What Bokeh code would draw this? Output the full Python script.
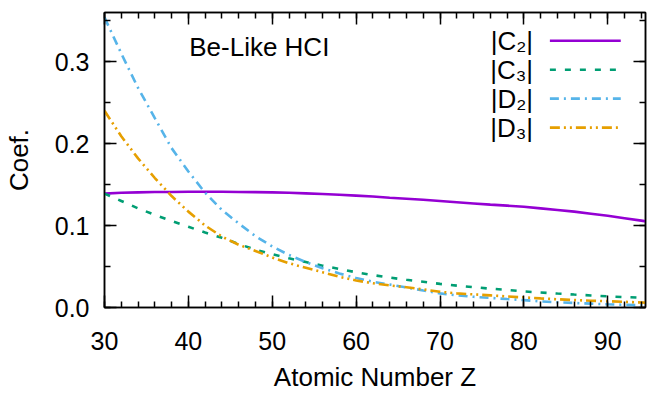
from bokeh.plotting import figure
from bokeh.models import Range1d, LinearAxis, SingleIntervalTicker, PrintfTickFormatter, CustomJSTickFormatter
from bokeh.core.properties import value
from bokeh.embed import file_html
from bokeh.resources import INLINE

# ---- data ----
Z = [30, 32, 34, 36, 38, 40, 42, 44, 46, 48, 50, 52, 54, 56, 58, 60, 62, 64,
     66, 68, 70, 72, 74, 76, 78, 80, 82, 84, 86, 88, 90, 92, 94, 95]
C2 = [0.139, 0.140, 0.1405, 0.141, 0.141, 0.1412, 0.1412, 0.1412, 0.141, 0.1408,
      0.1405, 0.140, 0.1393, 0.1385, 0.1375, 0.1365, 0.1355, 0.134, 0.1328, 0.1315,
      0.130, 0.1285, 0.127, 0.1255, 0.1243, 0.123, 0.121, 0.119, 0.117, 0.1145,
      0.112, 0.109, 0.106, 0.1045]
C3 = [0.139, 0.130, 0.121, 0.113, 0.1055, 0.0985, 0.0915, 0.085, 0.0775, 0.0705,
      0.065, 0.060, 0.0555, 0.051, 0.047, 0.043, 0.0395, 0.0365, 0.0338, 0.0315,
      0.0288, 0.0267, 0.0248, 0.023, 0.0214, 0.0196, 0.0183, 0.017, 0.0158, 0.0147,
      0.0136, 0.0127, 0.0119, 0.0115]
D2 = [0.354, 0.310, 0.268, 0.231, 0.1945, 0.166, 0.140, 0.119, 0.1025, 0.087,
      0.0745, 0.064, 0.0555, 0.048, 0.0415, 0.036, 0.0315, 0.028, 0.0245, 0.0207,
      0.0172, 0.0148, 0.0131, 0.0117, 0.0103, 0.009, 0.0075, 0.0064, 0.0055, 0.0047,
      0.0039, 0.0033, 0.0027, 0.0025]
D3 = [0.240, 0.209, 0.182, 0.158, 0.136, 0.117, 0.100, 0.0865, 0.0765, 0.069,
      0.061, 0.054, 0.0485, 0.043, 0.0375, 0.033, 0.0295, 0.027, 0.0247, 0.022,
      0.0192, 0.0172, 0.016, 0.0148, 0.0135, 0.0123, 0.0111, 0.010, 0.0091, 0.0083,
      0.0077, 0.0069, 0.0061, 0.0058]
series = [C2, C3, D2, D3]
labels = ["|C\u2082|", "|C\u2083|", "|D\u2082|", "|D\u2083|"]
title_text = "Be-Like HCI"
x_title = "Atomic Number Z"
y_title = "Coef."

# ---- styles ----
colors = ["#9400d3", "#009e73", "#56b4e9", "#e69f00"]
dashes = ["solid", "6 9", "9 5 2 5", "10 4 2 4 2 4"]
FONT = "Liberation Sans"
FS_TICK = "25px"
FS = "26px"
LW = 2.6

p = figure(width=647, height=394, output_backend="svg", toolbar_location=None,
           x_range=Range1d(30, 94.5), y_range=Range1d(0, 0.36),
           min_border_left=103, min_border_right=2, min_border_top=12, min_border_bottom=87,
           x_axis_location=None, y_axis_location=None)
p.grid.visible = False
p.outline_line_color = "black"
p.outline_line_width = 1.5
p.background_fill_color = "white"
p.border_fill_color = "white"


def make_axis(kind, loc, labels_on):
    if kind == "x":
        t = SingleIntervalTicker(interval=10, num_minor_ticks=5)
    else:
        t = SingleIntervalTicker(interval=0.1, num_minor_ticks=2)
    ax = LinearAxis(ticker=t)
    ax.axis_line_color = "black"
    ax.axis_line_width = 1.5
    ax.major_tick_line_color = "black"
    ax.minor_tick_line_color = "black"
    ax.major_tick_line_width = 1.5
    ax.minor_tick_line_width = 1.5
    ax.major_tick_in = 12
    ax.major_tick_out = 0
    ax.minor_tick_in = 6
    ax.minor_tick_out = 0
    if labels_on:
        if kind == "y":
            ax.formatter = PrintfTickFormatter(format="%.1f")
        ax.major_label_text_font = FONT
        ax.major_label_text_font_size = FS_TICK
        ax.major_label_text_color = "black"
        ax.axis_label_text_font = FONT
        ax.axis_label_text_font_size = FS
        ax.axis_label_text_font_style = "normal"
        ax.axis_label_text_color = "black"
    else:
        ax.formatter = CustomJSTickFormatter(code="return ''")
        ax.major_label_text_font_size = "1px"
        ax.major_label_standoff = 0
    p.add_layout(ax, loc)
    return ax


xb = make_axis("x", "below", True)
xb.axis_label = x_title
xb.major_label_standoff = 24
xb.axis_label_standoff = 9
xb.axis_label_text_line_height = 1.0
yl = make_axis("y", "left", True)
yl.axis_label = y_title
yl.major_label_standoff = 15
yl.axis_label_standoff = 18
make_axis("x", "above", False)
make_axis("y", "right", False)

for ys, c, d in zip(series, colors, dashes):
    p.line(Z, ys, line_color=c, line_width=LW, line_dash=d)

# title text inside plot
p.text(x=[40.1], y=[0.318], text=[title_text], text_font=value(FONT),
       text_font_size=FS, text_align="left", text_baseline="middle", text_color="black")

# gnuplot-style key: label right-aligned, sample to the right
key_x_text = 81.1
key_x0, key_x1 = 83.1, 91.55
key_y = [0.3256, 0.2902, 0.2549, 0.2195]
for lab, c, d, ky in zip(labels, colors, dashes, key_y):
    p.text(x=[key_x_text], y=[ky], text=[lab], text_font=value(FONT),
           text_font_size=FS, text_align="right", text_baseline="middle", text_color="black")
    p.line([key_x0, key_x1], [ky, ky], line_color=c, line_width=LW, line_dash=d)

open("out.html", "w").write(file_html(p, INLINE))
